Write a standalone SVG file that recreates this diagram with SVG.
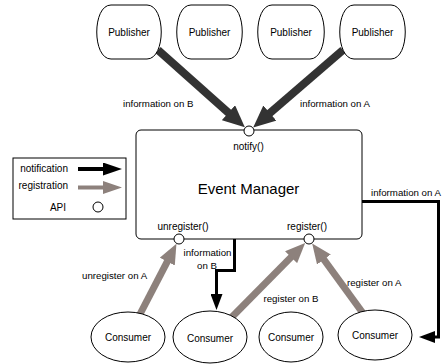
<svg xmlns="http://www.w3.org/2000/svg" width="443" height="364" viewBox="0 0 443 364">
<style>
text{font-family:"Liberation Sans",Arial,sans-serif;fill:#000}
.lbl{font-size:9.7px}
.nm{font-size:10px;text-anchor:middle}
.shape{fill:#fff;stroke:#000;stroke-width:1}
.api{fill:#fff;stroke:#000;stroke-width:1}
.pub{fill:none;stroke:#333;stroke-width:8}
.reg{fill:none;stroke:#8d817c;stroke-width:7}
.ntf{fill:none;stroke:#000;stroke-width:3;stroke-linejoin:miter}
</style>
<defs>
<marker id="hDark" markerUnits="userSpaceOnUse" markerWidth="22" markerHeight="20" refX="6" refY="10" orient="auto"><path d="M0,0 L22,10 L0,20 Z" fill="#333"/></marker>
<marker id="hGrey" markerUnits="userSpaceOnUse" markerWidth="20" markerHeight="17" refX="6" refY="8.5" orient="auto"><path d="M0,0 L20,8.5 L0,17 Z" fill="#8d817c"/></marker>
<marker id="hBlack" markerUnits="userSpaceOnUse" markerWidth="16" markerHeight="12" refX="1" refY="6" orient="auto"><path d="M0,0 L16,6 L0,12 Z" fill="#000"/></marker>
<marker id="lBlack" markerUnits="userSpaceOnUse" markerWidth="19" markerHeight="13" refX="1" refY="6.5" orient="auto"><path d="M0,0 L19,6.5 L0,13 Z" fill="#000"/></marker>
<marker id="lGrey" markerUnits="userSpaceOnUse" markerWidth="19" markerHeight="13" refX="1" refY="6.5" orient="auto"><path d="M0,0 L19,6.5 L0,13 Z" fill="#8d817c"/></marker>
</defs>

<g id="connectors">
<line class="pub" x1="158" y1="50" x2="232.9" y2="116.7" marker-end="url(#hDark)"/>
<line class="pub" x1="343" y1="50" x2="265.3" y2="117" marker-end="url(#hDark)"/>
<line class="reg" x1="138" y1="318" x2="170" y2="256.3" marker-end="url(#hGrey)"/>
<line class="reg" x1="228" y1="321" x2="295.3" y2="252.9" marker-end="url(#hGrey)"/>
<line class="reg" x1="365" y1="316" x2="320.4" y2="254.7" marker-end="url(#hGrey)"/>
<path class="ntf" d="M234.5,239 V270.5 H216.5 V295" marker-end="url(#hBlack)"/>
<path class="ntf" d="M361,201.5 H438.5 V337 H434" marker-end="url(#hBlack)"/>
<text class="lbl" x="123" y="106.5">information on B</text>
<text class="lbl" x="300" y="106.5">information on A</text>
<text class="lbl" x="371" y="196">information on A</text>
<text class="lbl" x="207.5" y="256" text-anchor="middle">information</text>
<text class="lbl" x="207" y="268.5" text-anchor="middle">on B</text>
<text class="lbl" x="82" y="278.5">unregister on A</text>
<text class="lbl" x="263.5" y="302">register on B</text>
<text class="lbl" x="347" y="286">register on A</text>
</g>

<g id="publisher1"><path class="shape" d="M111,5 H147 C166,5 166,59 147,59 H111 C92,59 92,5 111,5 Z"/><text class="nm" x="129" y="36">Publisher</text></g>
<g id="publisher2"><path class="shape" d="M191,5 H228 C247,5 247,59 228,59 H191 C172,59 172,5 191,5 Z"/><text class="nm" x="209.5" y="36">Publisher</text></g>
<g id="publisher3"><path class="shape" d="M272,5 H310 C329,5 329,59 310,59 H272 C253,59 253,5 272,5 Z"/><text class="nm" x="291" y="36">Publisher</text></g>
<g id="publisher4"><path class="shape" d="M354,5 H391 C410,5 410,59 391,59 H354 C335,59 335,5 354,5 Z"/><text class="nm" x="372.5" y="36">Publisher</text></g>

<g id="event-manager">
<rect class="shape" x="136" y="130" width="226" height="109" rx="5"/>
<circle class="api" cx="249" cy="131" r="5"/>
<circle class="api" cx="179" cy="239" r="5"/>
<circle class="api" cx="309" cy="239" r="5"/>
<text class="nm" x="248.5" y="150">notify()</text>
<text x="248.5" y="193.5" style="font-size:15px;text-anchor:middle">Event Manager</text>
<text class="nm" x="183" y="230">unregister()</text>
<text class="nm" x="307" y="230">register()</text>
</g>

<g id="legend">
<rect x="13" y="158" width="113" height="61" fill="#fff" stroke="#000" stroke-width="1"/>
<text x="68" y="172" style="font-size:10px;text-anchor:end">notification</text>
<text x="68" y="189" style="font-size:10px;text-anchor:end">registration</text>
<text x="66" y="211" style="font-size:10px;text-anchor:end">API</text>
<line x1="78" y1="169" x2="104" y2="169" stroke="#000" stroke-width="4" marker-end="url(#lBlack)"/>
<line x1="78" y1="187.5" x2="104" y2="187.5" stroke="#8d817c" stroke-width="4" marker-end="url(#lGrey)"/>
<circle class="api" cx="98" cy="207" r="5"/>
</g>

<g id="consumer1"><ellipse class="shape" cx="128" cy="337" rx="37" ry="25"/><text class="nm" x="128" y="340.5">Consumer</text></g>
<g id="consumer2"><ellipse class="shape" cx="210" cy="337" rx="37" ry="26"/><text class="nm" x="210" y="342">Consumer</text></g>
<g id="consumer3"><ellipse class="shape" cx="291" cy="337" rx="32" ry="25"/><text class="nm" x="291" y="340.5">Consumer</text></g>
<g id="consumer4"><ellipse class="shape" cx="375" cy="335" rx="37" ry="25"/><text class="nm" x="375" y="339">Consumer</text></g>
</svg>
